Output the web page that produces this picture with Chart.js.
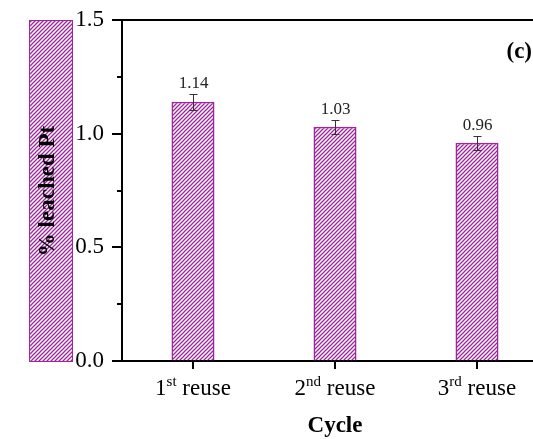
<!DOCTYPE html>
<html>
<head>
<meta charset="utf-8">
<script src="https://cdn.jsdelivr.net/npm/chart.js@4.4.0/dist/chart.umd.min.js"></script>
<style>
  html, body { margin: 0; padding: 0; background: #fff; overflow: hidden; }
  #wrap { position: absolute; left: 0; top: 0; width: 560px; height: 439px; }
</style>
</head>
<body>
<div id="wrap"><canvas id="myChart" width="560" height="439"></canvas></div>
<script>
// data
var ordinals = ['1', '2', '3'];
var suffixes = ['st', 'nd', 'rd'];
var cycles = ordinals.map(function(n, i) { return n + suffixes[i] + ' reuse'; });
var leached = [1.14, 1.03, 0.96];
var leachedErr = [0.035, 0.03, 0.03];
var yTicks = [0, 0.5, 1.0, 1.5];
var yMinor = [0.25, 0.75, 1.25];

var purple = '#a0249f';
var serif = "'Liberation Serif', 'Times New Roman', serif";

const ctx = document.getElementById('myChart');
const g2 = ctx.getContext('2d');

// diagonal hatch used by the bars and the box behind the y title
function makeHatch(color) {
  var p = document.createElement('canvas');
  p.width = 4; p.height = 4;
  var g = p.getContext('2d');
  g.strokeStyle = color;
  g.lineWidth = 1.3;
  g.beginPath();
  g.moveTo(0, 4); g.lineTo(4, 0);
  g.moveTo(-1, 1); g.lineTo(1, -1);
  g.moveTo(3, 5); g.lineTo(5, 3);
  g.stroke();
  return g2.createPattern(p, 'repeat');
}
var hatch = makeHatch(purple);

var extras = {
  id: 'extras',
  beforeDraw: function(chart) {
    var c = chart.ctx;
    c.save();
    c.fillStyle = hatch;
    c.fillRect(29, 20, 43, 342);
    c.strokeStyle = purple;
    c.lineWidth = 1;
    c.strokeRect(29.5, 20.5, 43, 341);
    c.restore();
  },
  afterDraw: function(chart) {
    var c = chart.ctx, area = chart.chartArea;
    var xs = chart.scales.x, ys = chart.scales.y;
    c.save();
    c.strokeStyle = '#000';
    c.lineWidth = 2;

    // top frame line
    c.beginPath();
    c.moveTo(area.left - 1, area.top);
    c.lineTo(area.right, area.top);
    c.stroke();

    // y ticks, major and minor, pointing out
    yTicks.forEach(function(v) {
      var py = Math.round(ys.getPixelForValue(v));
      c.beginPath(); c.moveTo(area.left, py); c.lineTo(area.left - 10, py); c.stroke();
    });
    yMinor.forEach(function(v) {
      var py = Math.round(ys.getPixelForValue(v));
      c.beginPath(); c.moveTo(area.left, py); c.lineTo(area.left - 5, py); c.stroke();
    });

    // x ticks
    cycles.forEach(function(lbl, i) {
      var px = Math.round(xs.getPixelForTick(i));
      c.beginPath(); c.moveTo(px, area.bottom); c.lineTo(px, area.bottom + 8); c.stroke();
    });

    // error bars and value labels
    var meta = chart.getDatasetMeta(0);
    c.strokeStyle = '#333';
    c.lineWidth = 1;
    c.fillStyle = '#222';
    c.font = '17px ' + serif;
    c.textAlign = 'center';
    c.textBaseline = 'bottom';
    meta.data.forEach(function(bar, i) {
      var bx = Math.round(bar.x) + 0.5;
      var top = Math.round(ys.getPixelForValue(leached[i] + leachedErr[i])) + 0.5;
      var bot = Math.round(ys.getPixelForValue(leached[i] - leachedErr[i])) + 0.5;
      c.beginPath();
      c.moveTo(bx, top); c.lineTo(bx, bot);
      c.moveTo(bx - 4, top); c.lineTo(bx + 4, top);
      c.moveTo(bx - 4, bot); c.lineTo(bx + 4, bot);
      c.stroke();
      c.fillText(leached[i].toFixed(2), bx, top - 2);
    });

    // x labels with superscripts
    c.fillStyle = '#000';
    c.textAlign = 'left';
    c.textBaseline = 'alphabetic';
    var big = '23px ' + serif, small = '15px ' + serif;
    ordinals.forEach(function(n, i) {
      var rest = ' reuse';
      c.font = big; var w1 = c.measureText(n).width, w3 = c.measureText(rest).width;
      c.font = small; var w2 = c.measureText(suffixes[i]).width;
      var x0 = xs.getPixelForTick(i) - (w1 + w2 + w3) / 2;
      var base = 395;
      c.font = big; c.fillText(n, x0, base);
      c.font = small; c.fillText(suffixes[i], x0 + w1, base - 9);
      c.font = big; c.fillText(rest, x0 + w1 + w2, base);
    });

    // axis titles and panel tag
    c.font = 'bold 23px ' + serif;
    c.textAlign = 'center';
    c.fillText('Cycle', (area.left + area.right) / 2, 432);
    c.textAlign = 'right';
    c.fillText('(c)', 532, 58);

    c.translate(48, 191);
    c.rotate(-Math.PI / 2);
    c.textAlign = 'center';
    c.textBaseline = 'middle';
    c.fillText('% leached Pt', 0, 0);
    c.restore();
  }
};

new Chart(ctx, {
  type: 'bar',
  data: {
    labels: cycles,
    datasets: [{
      label: '% leached Pt',
      data: leached,
      backgroundColor: hatch,
      borderColor: purple,
      borderWidth: 1.5,
      barPercentage: 0.303,
      categoryPercentage: 1
    }]
  },
  options: {
    responsive: false,
    animation: false,
    layout: { padding: { left: 0, top: 20, right: 12, bottom: 0 } },
    plugins: { legend: { display: false }, tooltip: { enabled: false } },
    scales: {
      x: {
        grid: { display: false, drawTicks: false },
        border: { display: true, color: '#000', width: 2 },
        ticks: { display: false },
        afterFit: function(s) { s.height = 78; }
      },
      y: {
        min: 0,
        max: 1.5,
        afterBuildTicks: function(s) { s.ticks = yTicks.map(function(v) { return { value: v }; }); },
        grid: { display: true, drawOnChartArea: false, drawTicks: true, tickLength: 18, tickColor: 'rgba(0,0,0,0)' },
        border: { display: true, color: '#000', width: 2 },
        ticks: {
          padding: 0,
          color: '#000',
          font: { family: serif, size: 23 },
          callback: function(v) { return Number(v).toFixed(1); }
        },
        afterFit: function(s) { s.width = 122; }
      }
    }
  },
  plugins: [extras]
});
</script>
</body>
</html>
